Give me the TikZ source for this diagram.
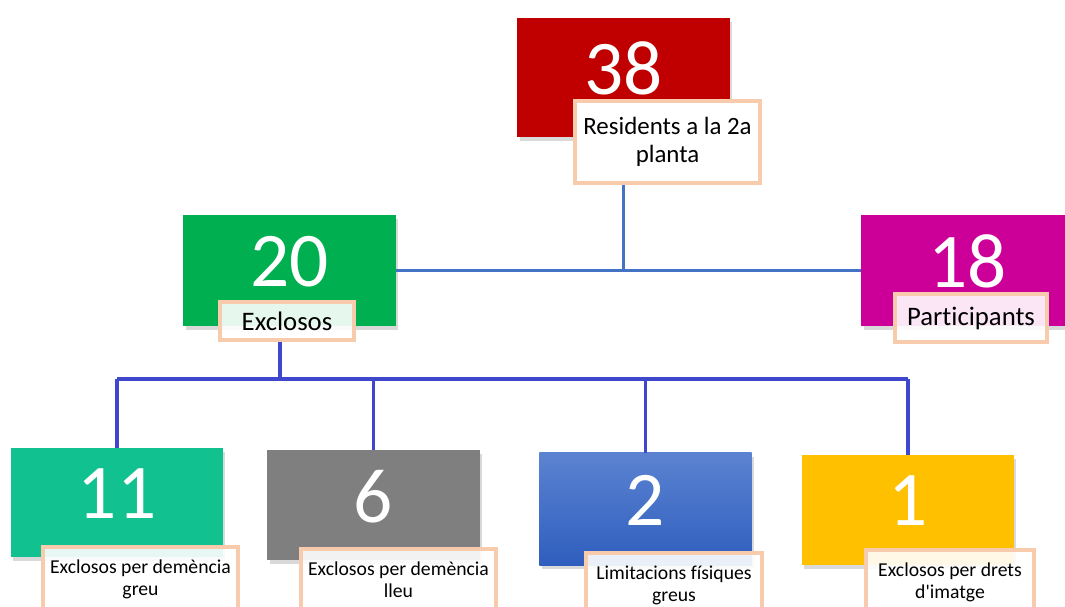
\documentclass[tikz,border=0pt]{standalone}
\usepackage{fontspec}
\setmainfont{Carlito}[Ligatures={TeXOff,CommonOff}]
\usetikzlibrary{shadows}

\definecolor{resred}{HTML}{C00000}
\definecolor{exgreen}{HTML}{00B050}
\definecolor{partmag}{HTML}{CC0099}
\definecolor{greuteal}{HTML}{12C190}
\definecolor{lleugray}{HTML}{7F7F7F}
\definecolor{limtop}{HTML}{5B83D1}
\definecolor{limbot}{HTML}{2F5EBE}
\definecolor{imgamber}{HTML}{FFC000}
\definecolor{tagline}{HTML}{F8CBAD}
\definecolor{toplink}{HTML}{4472C4}
\definecolor{sublink}{HTML}{3F48CC}

\begin{document}
\begin{tikzpicture}[x=0.025cm, y=-0.025cm,
    numbox/.style={rectangle, minimum width=5.3cm, minimum height=2.78cm,
        text=white, font=\fontsize{55}{55}\selectfont, text depth=0.45cm,
        drop shadow={shadow xshift=0.06cm, shadow yshift=-0.1cm, opacity=0.3}},
    tagbox/.style={rectangle, draw=tagline, line width=2.8pt, fill=white,
        fill opacity=0.9, text opacity=1, text=black, align=center, inner xsep=2pt},
    bigtag/.style={tagbox, font=\fontsize{19}{21}\selectfont},
    smalltag/.style={tagbox, anchor=north, inner ysep=9pt,
        font=\fontsize{14}{15.6}\selectfont}]
    \clip (0,0) rectangle (1065,606);
    \useasboundingbox (0,0) rectangle (1065,606);

    % top level
    \node (b38) [numbox, fill=resred, minimum height=2.975cm] at (623.5,77.5) {38};
    \node (b20) [numbox, fill=exgreen] at (289.5,270.5) {20};
    \node (b18) [numbox, fill=partmag] at (967.5,270.5) {18};

    % excluded groups
    \node (b11) [numbox, fill=greuteal, minimum height=2.73cm] at (117,502.5) {11};
    \node (b6) [numbox, fill=lleugray, minimum height=2.75cm] at (373.5,505) {6};
    \node (b2) [numbox, top color=limtop, bottom color=limbot, minimum height=2.8cm] at (645.5,509) {2};
    \node (b1) [numbox, fill=imgamber, minimum height=2.75cm] at (908,510) {1};

    % connectors
    \draw[toplink, line width=2.2pt] (b38.south |- 0,183) -- (b38.south |- b20.east);
    \draw[toplink, line width=2.2pt] (b20.east) -- (b18.west);
    \coordinate (hub) at (280,379);
    \draw[sublink, line width=2.2pt] (hub |- 0,340) -- (hub);
    \draw[sublink, line width=2.2pt] (hub -| b11.north) -- (hub -| b1.north);
    \foreach \b in {b11,b6,b2,b1}
        \draw[sublink, line width=2.2pt] (hub -| \b.north) -- (\b.north);

    % labels
    \node (t38) [tagbox, fill opacity=1, minimum width=4.625cm, minimum height=2.05cm,
        font=\fontsize{17.7}{20}\selectfont] at (667.5,142) {Residents a la 2a\\planta};
    \node (t20) [bigtag, minimum width=3.35cm, minimum height=0.95cm] at (287,321) {Exclosos};
    \node (t18) [bigtag, minimum width=3.8cm, minimum height=1.2cm] at (971,318) {Participants};
    \node (t11) [smalltag, minimum width=4.875cm] at (140.5,545) {Exclosos per demència\\greu};
    \node (t6) [smalltag, minimum width=4.875cm] at (398.5,547) {Exclosos per demència\\lleu};
    \node (t2) [smalltag, minimum width=4.4cm] at (674,551) {Limitacions físiques\\greus};
    \node (t1) [smalltag, minimum width=4.2cm] at (950,548) {Exclosos per drets\\d'imatge};
\end{tikzpicture}
\end{document}
